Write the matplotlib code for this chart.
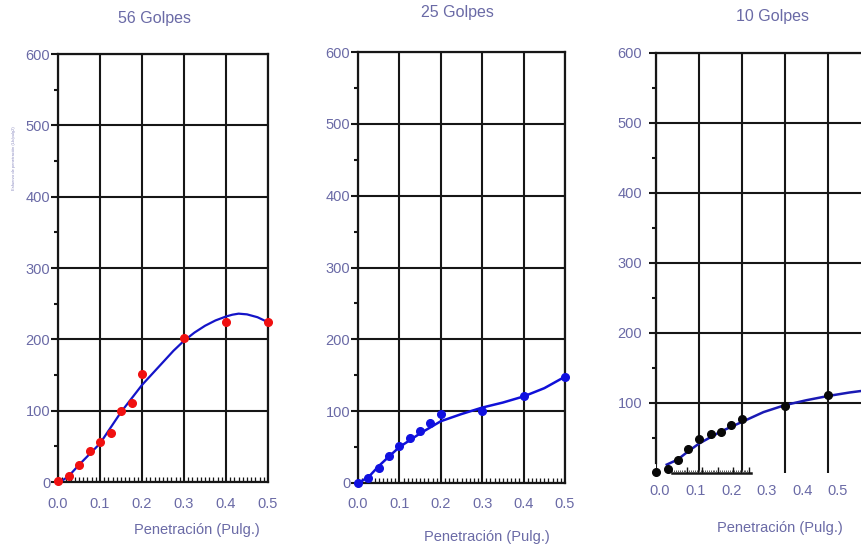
import numpy as np
import matplotlib
matplotlib.use("Agg")
import matplotlib.pyplot as plt

plt.rcParams['font.family'] = ['Liberation Sans', 'DejaVu Sans']

# penetration (in) for the measured points
penetracion = [0.0, 0.025, 0.05, 0.075, 0.1, 0.125, 0.15, 0.175, 0.2, 0.3, 0.4, 0.5]

# 56 golpes
esfuerzo_56 = [1, 8, 24, 43, 56, 69, 99, 111, 151, 202, 224, 224]
curva_56_x = [0.005, 0.025, 0.05, 0.1, 0.15, 0.2, 0.225, 0.25, 0.275, 0.3, 0.325, 0.35,
              0.375, 0.4, 0.415, 0.43, 0.45, 0.475, 0.5]
curva_56_y = [0, 8, 24, 54, 98, 136, 152, 168, 184, 198, 209.5, 219, 226.5, 232, 234.5,
              236, 235, 231, 224]

# 25 golpes
esfuerzo_25 = [0, 6.5, 21, 37, 51, 63, 73, 84, 96, 100, 121, 147]
curva_25_x = [0.0, 0.025, 0.05, 0.075, 0.1, 0.15, 0.2, 0.25, 0.3, 0.35, 0.4, 0.45, 0.5]
curva_25_y = [0, 8, 23.5, 37, 50, 69, 86, 96, 105, 112, 120.5, 132, 148]

# 10 golpes (right side of the chart is cut off)
penetracion_10 = [0.0, 0.027, 0.05, 0.075, 0.1, 0.127, 0.15, 0.175, 0.2, 0.3, 0.4]
esfuerzo_10 = [1, 6, 19, 34, 48, 56, 59, 69, 77, 96, 111]
curva_10_x = [0.025, 0.05, 0.075, 0.1, 0.15, 0.2, 0.25, 0.3, 0.35, 0.4, 0.45, 0.5]
curva_10_y = [12, 19, 31, 42, 59, 73, 87, 97, 104, 110, 115, 119]

x_ticks = [0.0, 0.1, 0.2, 0.3, 0.4, 0.5]
x_labels = ['0.0', '0.1', '0.2', '0.3', '0.4', '0.5']
y_ticks = [0, 100, 200, 300, 400, 500, 600]

TXT = '#6a6aa6'
GRID = '#161616'
W, H = 861, 547


def px(x, y):
    return x / W, 1 - y / H


def setup_axes(ax, pad=0.5):
    ax.set_xlim(0, 0.5)
    ax.set_ylim(0, 600)
    ax.set_yticks(y_ticks)
    ax.set_yticks(np.arange(50, 600, 100), minor=True)
    ax.grid(True, which='major', axis='y', color=GRID, linewidth=1.5)
    for s in ax.spines.values():
        s.set_color(GRID)
        s.set_linewidth(1.6)
    ax.tick_params(axis='y', which='major', direction='out', length=5, width=1.5,
                   color=GRID, labelcolor=TXT, labelsize=10.5, pad=pad)
    ax.tick_params(axis='y', which='minor', direction='out', length=3, width=1.5, color=GRID)
    ax.set_axisbelow(True)


fig = plt.figure(figsize=(8.61, 5.47), dpi=100)

# ---- 56 golpes ----
ax1 = fig.add_axes([58 / W, 1 - 482 / H, 210 / W, 428 / H])
setup_axes(ax1)
ax1.set_xticks(x_ticks, labels=x_labels)
ax1.set_xticks(np.arange(0, 0.5001, 0.01), minor=True)
ax1.grid(True, which='major', axis='x', color=GRID, linewidth=1.5)
ax1.tick_params(axis='x', which='major', length=0, labelcolor=TXT, labelsize=10.5, pad=11)
ax1.tick_params(axis='x', which='minor', direction='in', length=3.5, width=0.9, color=GRID)
ax1.plot(curva_56_x, curva_56_y, color='#1414c8', linewidth=1.6, zorder=3)
ax1.plot(penetracion, esfuerzo_56, 'o', color='#f01010', markersize=5.5, zorder=4, clip_on=False)

# ---- 25 golpes ----
ax2 = fig.add_axes([358 / W, 1 - 483 / H, 207 / W, 431 / H])
setup_axes(ax2)
ax2.set_xticks(x_ticks, labels=x_labels)
ax2.set_xticks(np.arange(0, 0.5001, 0.01), minor=True)
ax2.grid(True, which='major', axis='x', color=GRID, linewidth=1.5)
ax2.tick_params(axis='x', which='major', length=0, labelcolor=TXT, labelsize=10.5, pad=10)
ax2.tick_params(axis='x', which='minor', direction='in', length=3.5, width=0.9, color=GRID)
ax2.plot(curva_25_x, curva_25_y, color='#1010d8', linewidth=1.8, zorder=3)
ax2.plot(penetracion, esfuerzo_25, 'o', color='#1010e0', markersize=5.5, zorder=4, clip_on=False)

# ---- 10 golpes (axes run past the right edge of the figure) ----
ax3 = fig.add_axes([656 / W, 1 - 473 / H, 215 / W, 420 / H])
setup_axes(ax3, pad=5)
ax3.set_yticks(y_ticks[1:])
ax3.spines['bottom'].set_visible(False)
ax3.spines['left'].set_bounds(15, 600)
# tick labels sit off the grid in the original
lab_start = (660 - 656) / 430
lab_step = 35.6 / 430
ax3.set_xticks([lab_start + i * lab_step for i in range(len(x_labels))], labels=x_labels)
ax3.set_xticks(x_ticks, minor=True)
ax3.grid(True, which='minor', axis='x', color=GRID, linewidth=1.5)
ax3.tick_params(axis='x', which='major', length=0, labelcolor=TXT, labelsize=10.5, pad=8)
ax3.tick_params(axis='x', which='minor', length=0)
# short hatched baseline segment
seg = [0.037, 0.221]
ax3.plot(seg, [0, 0], color=GRID, linewidth=1.8, clip_on=False, zorder=2)
ax3.vlines(np.arange(seg[0], seg[1], 0.0045), 0, 5, color='#555555', linewidth=0.7, zorder=2)
ax3.vlines(np.arange(0.072, 0.222, 0.036), 0, 9, color=GRID, linewidth=1.0, zorder=2)
ax3.plot(curva_10_x, curva_10_y, color='#1a1ab4', linewidth=1.8, zorder=3)
ax3.plot(penetracion_10, esfuerzo_10, 'o', color='#080808', markersize=5.5, zorder=4, clip_on=False)

# ---- titles and labels ----
for (x, y), t in [((155, 18), '56 Golpes'), ((457, 13), '25 Golpes'), ((772, 16), '10 Golpes')]:
    fig.text(*px(x, y), t, color=TXT, fontsize=11.5, ha='center', va='center')
for (x, y) in [(197, 530), (487, 537), (780, 528)]:
    fig.text(*px(x, y), 'Penetración (Pulg.)', color=TXT, fontsize=10.5, ha='center', va='center')
fig.text(*px(14, 158), 'Esfuerzo de penetración (Lb/pulg2)', color='#8a8ac0', fontsize=3,
         rotation=90, ha='center', va='center')

fig.savefig('out.png', dpi=100)
